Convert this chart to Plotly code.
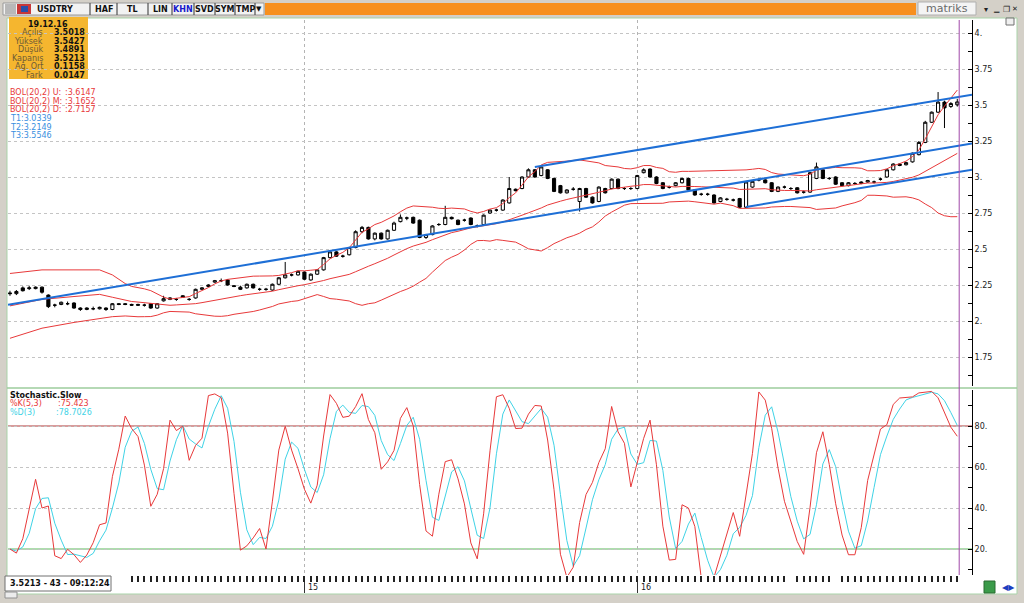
import pandas as pd
import plotly.graph_objects as go

# ---- weekly USDTRY candles (Feb 2014 - 19 Dec 2016) ----
opens = [2.195, 2.19, 2.23, 2.225, 2.225, 2.235, 2.18, 2.11, 2.115, 2.12,
         2.125, 2.09, 2.08, 2.085, 2.085, 2.09, 2.08, 2.12, 2.12, 2.115,
         2.115, 2.11, 2.12, 2.09, 2.14, 2.15, 2.15, 2.175, 2.15, 2.16,
         2.22, 2.24, 2.27, 2.28, 2.285, 2.245, 2.235, 2.23, 2.255, 2.22,
         2.22, 2.215, 2.255, 2.30, 2.32, 2.32, 2.34, 2.285, 2.325, 2.355,
         2.44, 2.48, 2.45, 2.46, 2.51, 2.62, 2.65, 2.57, 2.61, 2.57,
         2.63, 2.69, 2.715, 2.72, 2.70, 2.58, 2.60, 2.67, 2.67, 2.72,
         2.70, 2.70, 2.715, 2.66, 2.67, 2.75, 2.77, 2.77, 2.82, 2.915,
         2.92, 3.00, 3.05, 3.01, 3.05, 2.99, 2.94, 2.89, 2.915, 2.83,
         2.92, 2.86, 2.83, 2.92, 2.92, 2.985, 2.92, 2.92, 2.92, 3.03,
         3.055, 3.00, 2.96, 2.93, 2.94, 2.96, 2.99, 2.91, 2.88, 2.88,
         2.875, 2.83, 2.845, 2.84, 2.85, 2.79, 2.93, 2.98, 2.98, 2.96,
         2.90, 2.93, 2.92, 2.925, 2.895, 2.895, 2.99, 3.05, 2.99, 3.00,
         2.96, 2.94, 2.955, 2.955, 2.965, 2.965, 2.985, 3.00, 3.05, 3.09,
         3.085, 3.105, 3.155, 3.24, 3.38, 3.45, 3.52, 3.49, 3.5018]
highs = [2.21, 2.215, 2.24, 2.245, 2.24, 2.24, 2.185, 2.12, 2.135, 2.135,
         2.13, 2.095, 2.095, 2.10, 2.10, 2.095, 2.125, 2.125, 2.125, 2.12,
         2.12, 2.12, 2.125, 2.125, 2.175, 2.165, 2.16, 2.18, 2.16, 2.225,
         2.235, 2.255, 2.285, 2.295, 2.29, 2.25, 2.245, 2.26, 2.26, 2.23,
         2.23, 2.26, 2.305, 2.41, 2.33, 2.35, 2.345, 2.33, 2.36, 2.445,
         2.49, 2.485, 2.46, 2.515, 2.63, 2.66, 2.655, 2.615, 2.615, 2.635,
         2.69, 2.74, 2.725, 2.725, 2.705, 2.605, 2.665, 2.68, 2.80, 2.725,
         2.705, 2.71, 2.72, 2.67, 2.74, 2.775, 2.78, 2.845, 3.00, 2.92,
         3.005, 3.06, 3.055, 3.075, 3.055, 2.995, 2.945, 2.915, 2.93, 2.925,
         2.925, 2.865, 2.935, 2.925, 2.99, 2.99, 2.93, 2.93, 3.015, 3.06,
         3.06, 3.005, 2.965, 2.94, 2.965, 2.995, 2.995, 2.915, 2.89, 2.89,
         2.88, 2.86, 2.855, 2.85, 2.855, 2.97, 2.975, 2.99, 2.985, 2.965,
         2.935, 2.94, 2.93, 2.93, 2.905, 3.035, 3.10, 3.06, 3.00, 3.005,
         2.965, 2.965, 2.965, 2.97, 2.98, 2.975, 2.995, 3.055, 3.095, 3.095,
         3.105, 3.17, 3.25, 3.39, 3.455, 3.59, 3.53, 3.52, 3.5427]
lows = [2.175, 2.18, 2.205, 2.215, 2.22, 2.19, 2.09, 2.095, 2.11, 2.11,
        2.085, 2.07, 2.075, 2.075, 2.08, 2.07, 2.075, 2.11, 2.11, 2.105,
        2.105, 2.10, 2.085, 2.085, 2.135, 2.145, 2.14, 2.16, 2.14, 2.155,
        2.215, 2.235, 2.265, 2.27, 2.245, 2.235, 2.215, 2.225, 2.225, 2.21,
        2.21, 2.21, 2.25, 2.295, 2.31, 2.315, 2.285, 2.28, 2.32, 2.35,
        2.435, 2.445, 2.44, 2.455, 2.505, 2.61, 2.565, 2.56, 2.565, 2.565,
        2.625, 2.685, 2.70, 2.675, 2.575, 2.57, 2.595, 2.66, 2.665, 2.705,
        2.665, 2.69, 2.665, 2.65, 2.665, 2.745, 2.76, 2.765, 2.815, 2.90,
        2.915, 2.995, 2.995, 3.005, 2.985, 2.895, 2.885, 2.885, 2.905, 2.76,
        2.855, 2.815, 2.825, 2.885, 2.915, 2.915, 2.91, 2.91, 2.915, 3.025,
        2.995, 2.95, 2.915, 2.92, 2.935, 2.955, 2.905, 2.87, 2.87, 2.87,
        2.815, 2.825, 2.835, 2.83, 2.785, 2.785, 2.925, 2.97, 2.955, 2.895,
        2.895, 2.92, 2.91, 2.885, 2.885, 2.89, 2.985, 2.985, 2.98, 2.945,
        2.935, 2.935, 2.945, 2.95, 2.96, 2.955, 2.975, 2.995, 3.045, 3.075,
        3.08, 3.10, 3.15, 3.235, 3.375, 3.445, 3.34, 3.48, 3.4891]
closes = [2.19, 2.205, 2.21, 2.23, 2.235, 2.20, 2.10, 2.11, 2.13, 2.12,
          2.09, 2.08, 2.09, 2.085, 2.095, 2.08, 2.12, 2.115, 2.115, 2.11,
          2.11, 2.11, 2.09, 2.12, 2.155, 2.16, 2.15, 2.165, 2.15, 2.22,
          2.23, 2.25, 2.28, 2.28, 2.25, 2.24, 2.22, 2.255, 2.23, 2.22,
          2.22, 2.255, 2.30, 2.32, 2.32, 2.345, 2.29, 2.325, 2.355, 2.44,
          2.48, 2.45, 2.45, 2.51, 2.62, 2.65, 2.57, 2.61, 2.57, 2.63,
          2.68, 2.72, 2.715, 2.68, 2.58, 2.60, 2.66, 2.67, 2.72, 2.71,
          2.67, 2.70, 2.67, 2.66, 2.735, 2.77, 2.77, 2.84, 2.92, 2.905,
          3.00, 3.05, 3.00, 3.07, 2.99, 2.90, 2.89, 2.91, 2.915, 2.92,
          2.86, 2.82, 2.93, 2.89, 2.985, 2.92, 2.92, 2.92, 3.01, 3.05,
          3.00, 2.955, 2.92, 2.93, 2.96, 2.99, 2.91, 2.875, 2.88, 2.88,
          2.82, 2.855, 2.845, 2.84, 2.79, 2.965, 2.97, 2.98, 2.96, 2.90,
          2.93, 2.93, 2.92, 2.89, 2.895, 3.03, 3.07, 2.99, 2.99, 2.95,
          2.94, 2.96, 2.955, 2.965, 2.975, 2.965, 2.985, 3.05, 3.09, 3.08,
          3.10, 3.165, 3.24, 3.38, 3.45, 3.52, 3.48, 3.51, 3.5213]

# year ticks (candle index of first week of each year)
year_tick_idx = [46, 98]
year_tick_text = ["15", "16"]
# candle indices that carry a small tick mark in the bottom tick row
tick_row_idx = [i for i in range(19, 149) if i not in (122, 129)]

bb_early_idx = [0, 5, 10, 14, 16, 18]
bb_up_early = [2.33, 2.355, 2.355, 2.355, 2.32, 2.26]
bb_mid_early = [2.105, 2.15, 2.17, 2.185, 2.165, 2.145]
bb_lo_early = [1.88, 1.95, 1.99, 2.02, 2.03, 2.035]

stoch_k_early = [20, 18, 25, 40, 54, 40]

# trend lines (start index, start value, value at last candle = T2, T3, T1)
tl_start_idx = [-0.3, 82, 115]
tl_start_val = [2.113, 3.069, 2.792]
tl_end_val = [3.2149, 3.5546, 3.0339]

price_ticks = [1.75, 2.0, 2.25, 2.5, 2.75, 3.0, 3.25, 3.5, 3.75, 4.0]
price_tick_text = ["1.75", "2.", "2.25", "2.5", "2.75", "3.", "3.25", "3.5", "3.75", "4."]
stoch_ticks = [20, 40, 60, 80]
stoch_tick_text = ["20.", "40.", "60.", "80."]

info_date = "19.12.16"
info_labels = ["Açılış", "Yüksek", "Düşük", "Kapanış", "Ağ. Ort", "Fark"]
info_extra = [0.1158, 0.0147]
bol_labels = ["BOL(20,2) U:", "BOL(20,2) M:", "BOL(20,2) D:"]
bol_values = [":3.6147", ":3.1652", ":2.7157"]
t_labels = ["T1:3.0339", "T2:3.2149", "T3:3.5546"]
stoch_labels = ["%K(5,3)", "%D(3)"]
stoch_values = [":75.423", ":78.7026"]
status_text = "3.5213 - 43 - 09:12:24"
toolbar_buttons = ["HAF", "TL", "LIN", "KHN", "SVD", "SYM", "TMP"]

# ---------------------------------------------------------------
n = len(closes)
idx = list(range(n))
c = pd.Series(closes)
h = pd.Series(highs)
l = pd.Series(lows)

mid = c.rolling(20).mean()
sd = c.rolling(20).std(ddof=0)
bb_x = bb_early_idx + idx[19:]
bb_up = bb_up_early + list((mid + 2 * sd)[19:])
bb_mid = bb_mid_early + list(mid[19:])
bb_lo = bb_lo_early + list((mid - 2 * sd)[19:])

hh = h.rolling(5).max()
ll = l.rolling(5).min()
fast_k = (c - ll) / (hh - ll) * 100
slow_k = fast_k.rolling(3).mean()
k_full = pd.Series(stoch_k_early + list(slow_k[len(stoch_k_early):]))
d_full = k_full.rolling(3, min_periods=1).mean()

X_MIN, X_MAX = -0.31, 150.3
P_MIN, P_MAX = 1.5486, 4.0903
S_MIN, S_MAX = 7.32, 97.56

W, H = 1024, 603
def X(p): return p / W
def Y(p): return 1 - p / H

FONT = "DejaVu Sans"
RED = "#e8393a"
BLUE = "#1e6fd6"
CYAN = "#3fd3e6"

fig = go.Figure()

for ys in (bb_up, bb_mid, bb_lo):
    fig.add_trace(go.Scatter(x=bb_x, y=ys, mode="lines", line=dict(color=RED, width=1),
                             xaxis="x", yaxis="y", hoverinfo="skip"))

fig.add_trace(go.Candlestick(
    x=idx, open=opens, high=highs, low=lows, close=closes,
    increasing=dict(line=dict(color="black", width=1), fillcolor="white"),
    decreasing=dict(line=dict(color="black", width=1), fillcolor="black"),
    whiskerwidth=0, xaxis="x", yaxis="y", hoverinfo="skip"))

last = n - 1
for sx, sv, ev in zip(tl_start_idx, tl_start_val, tl_end_val):
    slope = (ev - sv) / (last - sx)
    fig.add_trace(go.Scatter(x=[sx, X_MAX], y=[sv, sv + slope * (X_MAX - sx)], mode="lines",
                             line=dict(color=BLUE, width=2), xaxis="x", yaxis="y", hoverinfo="skip"))

fig.add_trace(go.Scatter(x=idx, y=list(d_full), mode="lines", line=dict(color=CYAN, width=1),
                         xaxis="x2", yaxis="y2", hoverinfo="skip"))
fig.add_trace(go.Scatter(x=idx, y=list(k_full), mode="lines", line=dict(color=RED, width=1),
                         xaxis="x2", yaxis="y2", hoverinfo="skip"))
# invisible carrier so the tick-row axis is drawn
fig.add_trace(go.Scatter(x=tick_row_idx, y=[None] * len(tick_row_idx), mode="lines",
                         xaxis="x3", yaxis="y2", hoverinfo="skip", showlegend=False))

shapes = []
ann = []

def rect(x0, y0, x1, y1, fill, line="rgba(0,0,0,0)", lw=0, layer="below"):
    shapes.append(dict(type="rect", xref="paper", yref="paper", x0=X(x0), x1=X(x1), y0=Y(y1), y1=Y(y0),
                       fillcolor=fill, line=dict(color=line, width=lw), layer=layer))

def hline(x0, x1, y, color, lw=1, layer="below"):
    shapes.append(dict(type="line", xref="paper", yref="paper", x0=X(x0), x1=X(x1), y0=Y(y), y1=Y(y),
                       line=dict(color=color, width=lw), layer=layer))

def vline(x, y0, y1, color, lw=1, layer="below"):
    shapes.append(dict(type="line", xref="paper", yref="paper", x0=X(x), x1=X(x), y0=Y(y0), y1=Y(y1),
                       line=dict(color=color, width=lw), layer=layer))

def txt(x, y, s, color="#000", size=8, bold=False, anchor="left", family=FONT, xref="paper"):
    ann.append(dict(xref=xref, yref="paper", x=(X(x) if xref == "paper" else x), y=Y(y),
                    text=(f"<b>{s}</b>" if bold else s),
                    showarrow=False, xanchor=anchor, yanchor="middle",
                    font=dict(family=family, size=size, color=color)))

# window frame
rect(7, 18, 1017, 594, "white", "#a9d3a9", 1)
hline(7, 1017, 388, "#9ccc9c", 1.5)

# toolbar
rect(3, 3, 264, 15, "#f2f2f2", "#9a9a9a", 1)
rect(5, 4, 16, 14, "#b8b8b8")
rect(17, 4, 31, 14, "#c83838")
rect(21, 6, 28, 12, "#2a4fa8")
txt(35, 9, "USDTRY", "#111", 8, True)
sep = [90, 117, 148, 172, 194, 215, 235, 255]
for s in sep:
    vline(s, 3, 15, "#505050", 1.2)
btn_centers = [104, 132, 160, 183, 204, 225, 245]
for bx, bt in zip(btn_centers, toolbar_buttons):
    txt(bx, 9, bt, "#1a1acc" if bt == "KHN" else "#111", 8, True, "center")
txt(259, 9, "▼", "#111", 7, False, "center")
rect(265, 3, 916, 15, "#f7901e")
rect(918, 2, 976, 15, "#f4f4f4", "#b0b0b0", 1)
txt(947, 8.5, "matriks", "#6a6a6a", 11, False, "center")
txt(986, 9, "▾", "#222", 8, False, "center")
txt(996, 9, "▁", "#222", 7, False, "center")
txt(1006, 9, "❐", "#222", 8, False, "center")
txt(1015, 9, "✕", "#222", 7, False, "center")
rect(1006, 18, 1014, 25, "#f0f0f0", "#707070", 1)

# info box
rect(9, 17, 88, 79, "#f5b62f")
txt(48, 24, info_date, "#111", 8, True, "center")
info_vals = [opens[-1], highs[-1], lows[-1], closes[-1]] + info_extra
for i, (lab, val) in enumerate(zip(info_labels, info_vals)):
    yy = 32.7 + i * 8.5
    txt(45, yy, lab, "#6e5a36", 8, False, "right")
    txt(87, yy, f"{val:.4f}", "#111", 8, True, "right")

for i, (lab, val) in enumerate(zip(bol_labels, bol_values)):
    yy = 92.7 + i * 8.6
    txt(8, yy, lab, RED, 8)
    txt(63, yy, val, RED, 8)
for i, lab in enumerate(t_labels):
    txt(8, 118.5 + i * 8.6, lab, "#3a8fe0", 8)

txt(8, 395.5, "Stochastic.Slow", "#111", 8, True)
txt(8, 404, stoch_labels[0], RED, 8)
txt(56, 404, stoch_values[0], RED, 8)
txt(8, 412.5, stoch_labels[1], CYAN, 8)
txt(54, 412.5, stoch_values[1], CYAN, 8)

# year labels under the long year ticks
for yi, yt in zip(year_tick_idx, year_tick_text):
    txt(yi + 0.25, 587, yt, "#222", 8, False, "left", xref="x2")

# status box bottom-left
rect(5, 576, 111, 591, "white", "#707070", 1, "above")
txt(8, 583.5, status_text, "#111", 8, True)
rect(5, 592, 17, 598, "#ececec", "#909090", 1, "above")
# bottom-right controls
rect(984, 581, 995, 593, "#3b9b4a", "#2a6a30", 1, "above")
txt(1008, 587, "◀▶", "#1c3fc0", 8, False, "center")

shapes.append(dict(type="line", xref="x2 domain", yref="y2", x0=0, x1=1, y0=80, y1=80,
                   line=dict(color="#b03838", width=1), layer="below"))
shapes.append(dict(type="line", xref="x2 domain", yref="y2", x0=0, x1=1, y0=20, y1=20,
                   line=dict(color="#5cb85c", width=1), layer="below"))
shapes.append(dict(type="line", xref="x", yref="paper", x0=last + 0.3, x1=last + 0.3,
                   y0=Y(575), y1=Y(20), line=dict(color="#a048a8", width=1), layer="above"))

xdom = [X(8), X(972)]
axis_font = dict(family=FONT, size=8, color="#222")

fig.update_layout(
    width=W, height=H, margin=dict(l=0, r=0, t=0, b=0),
    paper_bgcolor="#d4d0c8", plot_bgcolor="white",
    showlegend=False, hovermode=False,
    shapes=shapes, annotations=ann,
    xaxis=dict(domain=xdom, range=[X_MIN, X_MAX], anchor="y", showticklabels=False, ticks="",
               tickvals=year_tick_idx, showgrid=True, gridcolor="#b4b4b4", griddash="dot",
               zeroline=False, showline=False, rangeslider=dict(visible=False), fixedrange=True),
    yaxis=dict(domain=[Y(386), Y(20)], range=[P_MIN, P_MAX], side="right", anchor="x",
               tickvals=price_ticks, ticktext=price_tick_text, ticks="inside", ticklen=4,
               tickcolor="black", showline=True, linecolor="black", linewidth=1,
               showgrid=True, gridcolor="#c4c4c4", griddash="dot", zeroline=False,
               tickfont=axis_font,
               minor=dict(dtick=0.125, tick0=0, ticks="inside", ticklen=4, tickcolor="black", showgrid=False)),
    xaxis2=dict(domain=xdom, range=[X_MIN, X_MAX], anchor="y2", tickvals=year_tick_idx,
                showticklabels=False, ticks="outside", ticklen=17, tickcolor="#333", tickwidth=1,
                showgrid=True, gridcolor="#b4b4b4", griddash="dot", zeroline=False, showline=False),
    xaxis3=dict(domain=xdom, range=[X_MIN, X_MAX], anchor="y2", overlaying="x2", side="bottom",
                tickvals=tick_row_idx, showticklabels=False, ticks="outside", ticklen=6,
                tickwidth=2, tickcolor="#222", showgrid=False, zeroline=False, showline=False),
    yaxis2=dict(domain=[Y(575), Y(390)], range=[S_MIN, S_MAX], side="right", anchor="x2",
                tickvals=stoch_ticks, ticktext=stoch_tick_text, ticks="inside", ticklen=4,
                tickcolor="black", showline=True, linecolor="black", linewidth=1,
                showgrid=True, gridcolor="#c4c4c4", griddash="dot", zeroline=False,
                tickfont=axis_font,
                minor=dict(dtick=10, tick0=0, ticks="inside", ticklen=4, tickcolor="black", showgrid=False)),
)

fig.write_html("out.html", config={"displayModeBar": False},
               post_script="document.body.style.margin='0';document.body.style.overflow='hidden';")
